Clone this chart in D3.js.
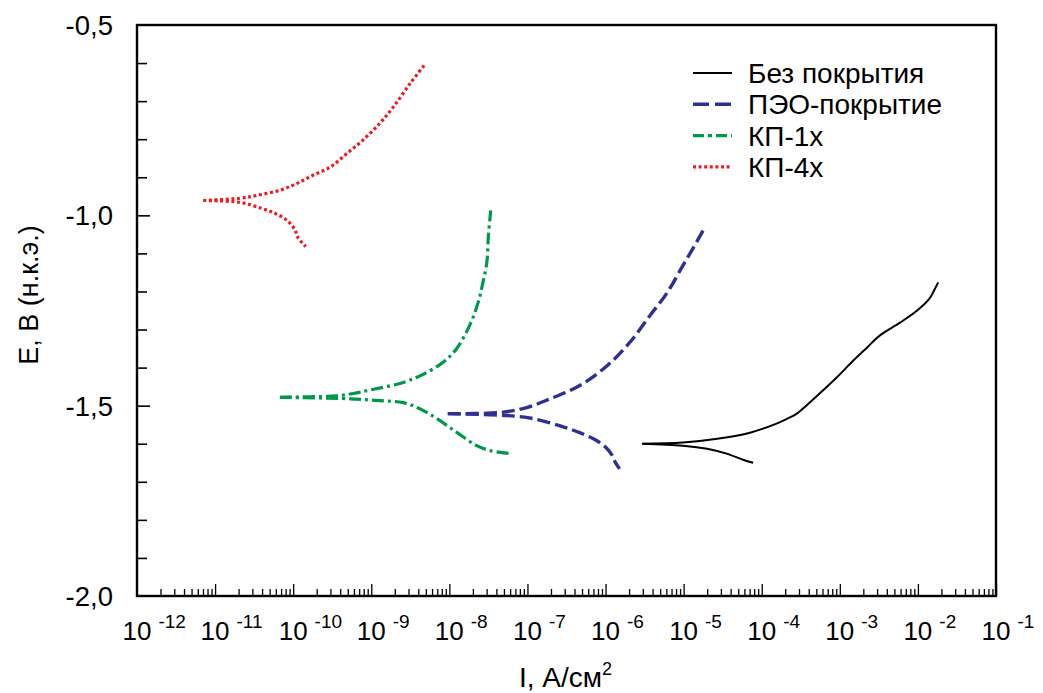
<!DOCTYPE html>
<html>
<head>
<meta charset="utf-8">
<script src="https://cdn.jsdelivr.net/npm/d3@7"></script>
<style>
  html, body { margin: 0; padding: 0; background: #fff; }
  svg { display: block; font-family: "Liberation Sans", Arial, sans-serif; }
</style>
</head>
<body>
<svg id="chart" width="1043" height="693"></svg>
<script>
// Polarization curves: [lg I (A/cm²), E (V vs SCE)]
const seriesNames = ["Без покрытия", "ПЭО-покрытие", "КП-1х", "КП-4х"];

const bareAnodic = [[-5.53,-1.600],[-5.01,-1.597],[-4.57,-1.587],[-4.15,-1.571],[-3.81,-1.547],[-3.68,-1.535],[-3.55,-1.521],[-3.43,-1.500],[-3.29,-1.474],[-3.04,-1.426],[-2.83,-1.382],[-2.65,-1.347],[-2.49,-1.316],[-2.23,-1.282],[-2.01,-1.250],[-1.85,-1.218],[-1.78,-1.192],[-1.74,-1.176]];
const bareCathodic = [[-5.53,-1.600],[-5.01,-1.605],[-4.70,-1.613],[-4.45,-1.626],[-4.24,-1.642],[-4.11,-1.650]];

const peoAnodic = [[-8.02,-1.521],[-7.35,-1.518],[-7.01,-1.505],[-6.71,-1.482],[-6.33,-1.447],[-5.98,-1.395],[-5.69,-1.334],[-5.43,-1.263],[-5.21,-1.203],[-5.01,-1.132],[-4.88,-1.087],[-4.73,-1.032]];
const peoCathodic = [[-8.02,-1.521],[-7.26,-1.526],[-6.93,-1.534],[-6.58,-1.553],[-6.33,-1.571],[-6.11,-1.592],[-5.98,-1.613],[-5.92,-1.629],[-5.88,-1.647],[-5.82,-1.666]];

const kp1Anodic = [[-10.17,-1.478],[-9.44,-1.474],[-9.23,-1.468],[-9.02,-1.459],[-8.59,-1.439],[-8.33,-1.417],[-8.08,-1.386],[-7.91,-1.351],[-7.74,-1.289],[-7.63,-1.228],[-7.57,-1.176],[-7.52,-1.123],[-7.50,-1.053],[-7.47,-0.987]];
const kp1Cathodic = [[-10.17,-1.478],[-9.27,-1.482],[-8.89,-1.487],[-8.59,-1.492],[-8.38,-1.508],[-8.16,-1.534],[-7.90,-1.571],[-7.65,-1.605],[-7.48,-1.618],[-7.22,-1.626]];

const kp4Anodic = [[-11.15,-0.961],[-10.68,-0.955],[-10.45,-0.947],[-10.17,-0.934],[-9.95,-0.916],[-9.75,-0.895],[-9.53,-0.874],[-9.31,-0.837],[-9.11,-0.803],[-8.89,-0.758],[-8.72,-0.716],[-8.50,-0.653],[-8.31,-0.603]];
const kp4Cathodic = [[-11.15,-0.961],[-10.68,-0.966],[-10.40,-0.982],[-10.23,-0.995],[-10.08,-1.013],[-9.98,-1.037],[-9.94,-1.058],[-9.84,-1.082]];

const xExponents = [-12, -11, -10, -9, -8, -7, -6, -5, -4, -3, -2, -1];
const yTickLabels = ["-0,5", "-1,0", "-1,5", "-2,0"];
const yTickValues = [-0.5, -1.0, -1.5, -2.0];

const styles = [
  { color: "#000000", width: 2,   dash: null },
  { color: "#2e3192", width: 3.4, dash: "13,5" },
  { color: "#00994c", width: 3.2, dash: "12,4,3,4" },
  { color: "#ed1c24", width: 3.2, dash: "3,2.6" }
];
const curves = [
  [bareAnodic, bareCathodic],
  [peoAnodic, peoCathodic],
  [kp1Anodic, kp1Cathodic],
  [kp4Anodic, kp4Cathodic]
];

const svg = d3.select("#chart");
const plotLeft = 137, plotRight = 996, plotTop = 25, plotBottom = 596;

const x = d3.scaleLog().domain([1e-12, 1e-1]).range([plotLeft, plotRight]);
const y = d3.scaleLinear().domain([-2.0, -0.5]).range([plotBottom, plotTop]);

const fontFamily = '"Liberation Sans", Arial, sans-serif';

// Curves: each sample drawn as two branches from the corrosion potential
const line = d3.line()
  .x(d => x(Math.pow(10, d[0])))
  .y(d => y(d[1]))
  .curve(d3.curveCatmullRom.alpha(0.5));

curves.forEach((branches, i) => {
  const s = styles[i];
  branches.forEach(b => {
    svg.append("path")
      .attr("d", line(b))
      .attr("fill", "none")
      .attr("stroke", s.color)
      .attr("stroke-width", s.width)
      .attr("stroke-dasharray", s.dash)
      .attr("stroke-linejoin", "round");
  });
});

// X axis minor/decade ticks, drawn inward
const xTicks = [];
for (let e = -12; e < -1; e++) {
  for (let m = 2; m <= 10; m++) xTicks.push({ v: m * Math.pow(10, e), major: m === 10 });
}
const xAxis = d3.axisBottom(x)
  .tickValues(xTicks.map(t => t.v))
  .tickSize(0)
  .tickFormat("");
const gx = svg.append("g").attr("transform", `translate(0,${plotBottom})`).call(xAxis);
gx.select(".domain").remove();
gx.selectAll(".tick line").remove();
gx.selectAll(".tick").append("line")
  .attr("y1", 0)
  .attr("y2", (d, i) => xTicks[i].major ? -12 : -7)
  .attr("stroke", "#000")
  .attr("stroke-width", 1.3);

// X tick labels: 10 with superscript exponent
xExponents.forEach(e => {
  const px = x(Math.pow(10, e));
  const t = svg.append("text")
    .attr("x", px - 14.5)
    .attr("y", 640)
    .attr("font-family", fontFamily)
    .attr("font-size", 26)
    .attr("fill", "#000");
  t.append("tspan").text("10");
  t.append("tspan").attr("dx", 7).attr("dy", -12).attr("font-size", 19).text(String(e));
});

// Y axis ticks (inward), every 0.1 V
const yTicks = d3.range(0, 16).map(i => -2.0 + i * 0.1).filter(v => v > -1.999 && v < -0.501);
const yAxis = d3.axisLeft(y).tickValues(yTicks).tickSize(0).tickFormat("");
const gy = svg.append("g").attr("transform", `translate(${plotLeft},0)`).call(yAxis);
gy.select(".domain").remove();
gy.selectAll(".tick line").remove();
gy.selectAll(".tick").append("line")
  .attr("x1", 0)
  .attr("x2", d => Math.abs(Math.round(d * 10) % 5) === 0 ? 13 : 10)
  .attr("stroke", "#000")
  .attr("stroke-width", 1.6);

yTickValues.forEach((v, i) => {
  svg.append("text")
    .attr("x", 113)
    .attr("y", y(v))
    .attr("dy", "0.36em")
    .attr("text-anchor", "end")
    .attr("font-family", fontFamily)
    .attr("font-size", 27.5)
    .attr("fill", "#000")
    .text(yTickLabels[i]);
});

// Frame
svg.append("rect")
  .attr("x", plotLeft).attr("y", plotTop)
  .attr("width", plotRight - plotLeft).attr("height", plotBottom - plotTop)
  .attr("fill", "none").attr("stroke", "#000").attr("stroke-width", 2.4);

// Axis titles
const xt = svg.append("text")
  .attr("x", 519).attr("y", 687)
  .attr("font-family", fontFamily).attr("font-size", 28).attr("fill", "#000");
xt.append("tspan").text("I, А/см");
xt.append("tspan").attr("dy", -12).attr("font-size", 18).text("2");

svg.append("text")
  .attr("transform", "translate(38,295) rotate(-90)")
  .attr("text-anchor", "middle")
  .attr("font-family", fontFamily).attr("font-size", 27).attr("fill", "#000")
  .text("E, В (н.к.э.)");

// Legend
const legend = svg.append("g");
seriesNames.forEach((name, i) => {
  const cy = 73 + i * 31.3;
  const s = styles[i];
  legend.append("line")
    .attr("x1", 693).attr("x2", 732)
    .attr("y1", cy).attr("y2", cy)
    .attr("stroke", s.color)
    .attr("stroke-width", s.width)
    .attr("stroke-dasharray", i === 1 ? "16,6" : i === 2 ? "11,4,4,4" : s.dash);
  legend.append("text")
    .attr("x", 748).attr("y", cy).attr("dy", "0.36em")
    .attr("font-family", fontFamily).attr("font-size", 28).attr("fill", "#000")
    .text(name);
});
</script>
</body>
</html>
